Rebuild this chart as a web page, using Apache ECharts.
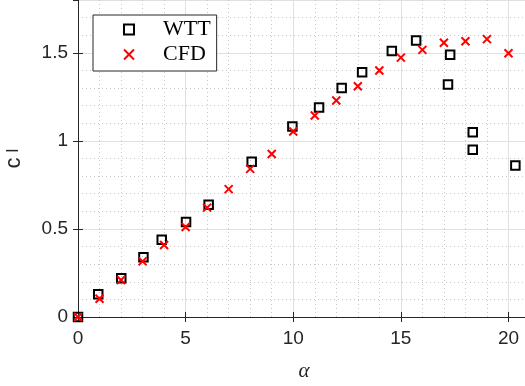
<!DOCTYPE html>
<html>
<head>
<meta charset="utf-8">
<script src="https://cdn.jsdelivr.net/npm/echarts@6/dist/echarts.min.js"></script>
<style>html,body{margin:0;padding:0;background:#fff}#c{width:525px;height:386px}</style>
</head>
<body>
<div id="c"></div>
<script>
const wttAlpha = [0, 0.94, 2.01, 3.04, 3.89, 5.02, 6.07, 8.07, 9.96, 11.2, 12.25, 13.2, 14.58, 15.71, 17.19, 17.29, 18.34, 18.34, 20.32];
const wttCl    = [0, 0.129, 0.22, 0.339, 0.438, 0.54, 0.638, 0.882, 1.081, 1.19, 1.30, 1.39, 1.511, 1.570, 1.32, 1.489, 1.049, 0.949, 0.86];
const cfdAlpha = [0, 1, 2, 3, 4, 5, 6, 7, 8, 9, 10, 11, 12, 13, 14, 15, 16, 17, 18, 19, 20];
const cfdCl    = [0, 0.104, 0.21, 0.316, 0.409, 0.511, 0.621, 0.726, 0.841, 0.926, 1.053, 1.144, 1.229, 1.31, 1.40, 1.473, 1.517, 1.557, 1.566, 1.578, 1.498];
const seriesNames = ['WTT', 'CFD'];

const crossPath = 'path://M0,0L10,10M10,0L0,10';
const axisColor = '#262626';
const chart = echarts.init(document.getElementById('c'), null, {renderer: 'canvas'});
const labelFont = {fontFamily: 'Liberation Sans', fontSize: 19, color: axisColor};
const common = {
  min: 0,
  axisLine: {show: true, lineStyle: {color: axisColor, width: 1}},
  axisTick: {show: true, inside: true, length: 5, lineStyle: {color: axisColor}},
};
const hidden = {
  min: 0, type: 'value',
  axisLine: {show: false}, axisTick: {show: false}, axisLabel: {show: false},
  splitLine: {show: true, lineStyle: {color: '#c8c8c8', type: [1, 3], width: 1}}
};
chart.setOption({
  animation: false,
  grid: {left: 78, right: -5, top: 0, bottom: 69, containLabel: false, outerBoundsMode: 'none'},
  legend: {
    left: 93, top: 15, orient: 'vertical',
    backgroundColor: '#fff', borderColor: axisColor, borderWidth: 1,
    padding: [3, 6, 5, 30],
    itemWidth: 10, itemHeight: 10, itemGap: 2,
    textStyle: {fontFamily: 'Liberation Serif', fontSize: 22, color: '#000', lineHeight: 23, padding: [0, 0, 0, 24]},
    data: [
      {name: seriesNames[0], icon: 'rect', itemStyle: {color: 'transparent', borderColor: '#000', borderWidth: 2}},
      {name: seriesNames[1], icon: crossPath, itemStyle: {color: 'transparent', borderColor: '#ff0000', borderWidth: 2}}
    ]
  },
  xAxis: [
    Object.assign({}, hidden, {max: 21, interval: 1, position: 'bottom', z: 0}),
    Object.assign({}, common, {
      type: 'value', position: 'bottom', max: 21, interval: 5,
      axisLabel: Object.assign({margin: 12, showMaxLabel: false}, labelFont),
      splitLine: {show: true, lineStyle: {color: '#e0e0e0', width: 1}},
      name: 'α', nameLocation: 'middle', nameGap: 44,
      nameTextStyle: {fontFamily: 'Liberation Serif', fontStyle: 'italic', fontSize: 21, color: axisColor}
    }),
    Object.assign({}, common, {
      type: 'value', position: 'top', max: 21, interval: 5,
      axisLabel: {show: false}, splitLine: {show: false}
    })
  ],
  yAxis: [
    Object.assign({}, hidden, {max: 1.8, interval: 0.1, position: 'left', z: 0}),
    Object.assign({}, common, {
      type: 'value', position: 'left', max: 1.8, interval: 0.5,
      axisLabel: Object.assign({margin: 10, showMaxLabel: false}, labelFont),
      splitLine: {show: true, lineStyle: {color: '#e0e0e0', width: 1}},
      name: '{b|c}{s|l}', nameLocation: 'middle', nameGap: 46, nameRotate: 90,
      nameTextStyle: {fontFamily: 'Liberation Sans', fontSize: 22, color: axisColor,
        rich: {
          b: {fontFamily: 'Liberation Sans', fontSize: 22, height: 34, lineHeight: 22, color: axisColor, verticalAlign: 'top', align: 'left'},
          s: {fontFamily: 'Liberation Sans', fontSize: 17, height: 34, lineHeight: 34, color: axisColor, verticalAlign: 'bottom', padding: [14, 0, 0, 5]}
        }}
    }),
    Object.assign({}, common, {
      type: 'value', position: 'right', max: 1.8, interval: 0.5,
      axisLabel: {show: false}, splitLine: {show: false}
    })
  ],
  series: [
    {
      name: seriesNames[0], type: 'scatter', symbol: 'rect', symbolSize: 8.5,
      xAxisIndex: 1, yAxisIndex: 1,
      itemStyle: {color: 'transparent', borderColor: '#000', borderWidth: 2, opacity: 1},
      data: wttAlpha.map((a, i) => [a, wttCl[i]]), z: 3
    },
    {
      name: seriesNames[1], type: 'scatter', symbol: crossPath, symbolSize: 8,
      xAxisIndex: 1, yAxisIndex: 1,
      itemStyle: {color: 'transparent', borderColor: '#ff0000', borderWidth: 2, opacity: 1},
      data: cfdAlpha.map((a, i) => [a, cfdCl[i]]), z: 4
    }
  ]
});
</script>
</body>
</html>
